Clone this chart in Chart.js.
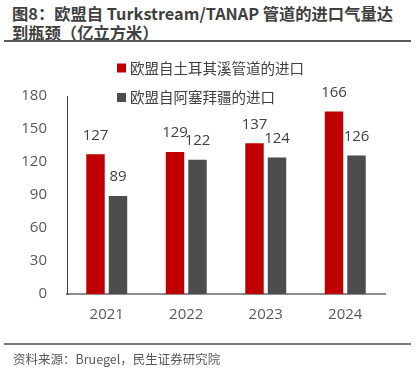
<!DOCTYPE html>
<html>
<head>
<meta charset="utf-8">
<script src="https://cdn.jsdelivr.net/npm/chart.js@4"></script>
<style>
body { margin:0; width:416px; height:370px; background:#fff; position:relative; overflow:hidden;
  font-family:"Open Sans","Noto Sans CJK SC",sans-serif; }
#title { position:absolute; left:12px; top:4px; font-family:"Noto Sans CJK SC",sans-serif; font-weight:bold;
  font-size:16.3px; line-height:19px; color:#404040; white-space:nowrap; }
.rule { position:absolute; left:4px; width:407px; height:2px; background:#595959; }
#source { position:absolute; left:13px; top:349px; font-family:"Noto Sans CJK SC",sans-serif;
  font-size:12.5px; color:#595959; white-space:nowrap; }
#wrap { position:absolute; left:0; top:0; width:416px; height:370px; }
</style>
</head>
<body>
<div id="title">图8：欧盟自 Turkstream/TANAP 管道的进口气量达<br>到瓶颈（亿立方米）</div>
<div class="rule" style="top:40px"></div>
<div id="wrap"><canvas id="chart"></canvas></div>
<div class="rule" style="top:343px; background:#7a7a7a"></div>
<div id="source">资料来源：Bruegel，民生证券研究院</div>
<script>
// data
const years = ["2021", "2022", "2023", "2024"];
const turkstream = [127, 129, 137, 166];
const tanap = [89, 122, 124, 126];
const seriesNames = ["欧盟自土耳其溪管道的进口", "欧盟自阿塞拜疆的进口"];
const yTicks = [0, 30, 60, 90, 120, 150, 180];

const textColor = "#404040";
const fontFamily = '"Open Sans","Noto Sans CJK SC",sans-serif';

// value labels above each bar
const valueLabels = {
  id: "valueLabels",
  afterDatasetsDraw(chart) {
    const ctx = chart.ctx;
    ctx.save();
    ctx.font = "15px " + fontFamily;
    ctx.fillStyle = textColor;
    ctx.textAlign = "center";
    ctx.textBaseline = "middle";
    chart.data.datasets.forEach((ds, i) => {
      chart.getDatasetMeta(i).data.forEach((bar, j) => {
        ctx.fillText(ds.data[j], bar.x, bar.y - 19);
      });
    });
    ctx.restore();
  }
};

// stacked legend drawn over the plot
const stackLegend = {
  id: "stackLegend",
  afterDraw(chart) {
    const ctx = chart.ctx;
    ctx.save();
    ctx.font = "14.5px \"Noto Sans CJK SC\",sans-serif";
    ctx.textBaseline = "middle";
    chart.data.datasets.forEach((ds, i) => {
      const y = 68 + i * 29.5;
      ctx.fillStyle = ds.backgroundColor;
      ctx.fillRect(117, y - 4.5, 9, 9);
      ctx.fillStyle = textColor;
      ctx.fillText(ds.label, 130, y);
    });
    ctx.restore();
  }
};

new Chart(document.getElementById("chart"), {
  type: "bar",
  data: {
    labels: years,
    datasets: [
      { label: seriesNames[0], data: turkstream, backgroundColor: "#c00000" },
      { label: seriesNames[1], data: tanap, backgroundColor: "#4d4d4f" }
    ]
  },
  options: {
    responsive: true,
    maintainAspectRatio: false,
    animation: false,
    layout: { padding: { top: 96, right: 31, left: 0, bottom: 0 } },
    datasets: { bar: { categoryPercentage: 0.566, barPercentage: 0.82 } },
    plugins: { legend: { display: false }, tooltip: { enabled: false } },
    scales: {
      x: {
        grid: { display: false, drawTicks: false },
        border: { display: true, color: "#8c8c8c", width: 2 },
        ticks: { color: "#595959", font: { size: 15, family: fontFamily }, padding: 12 },
        afterFit(scale) { scale.height = 76; }
      },
      y: {
        min: 0,
        max: 180,
        grid: { display: false, drawTicks: false },
        border: { display: true, color: "#404040", width: 1 },
        afterBuildTicks(scale) { scale.ticks = yTicks.map(v => ({ value: v })); },
        ticks: { color: "#595959", font: { size: 15, family: fontFamily }, padding: 20 },
        afterFit(scale) { scale.width = 67; }
      }
    }
  },
  plugins: [valueLabels, stackLegend]
});
</script>
</body>
</html>
